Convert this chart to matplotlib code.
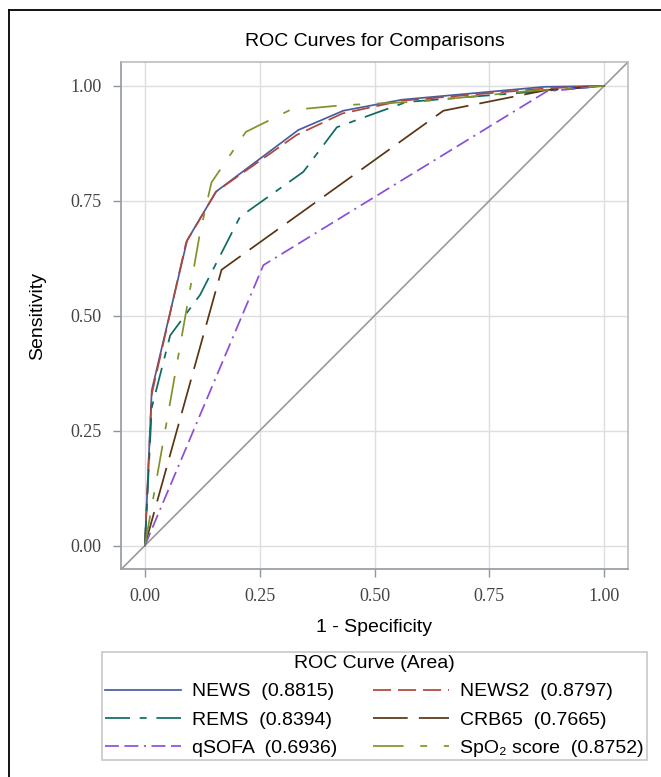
import matplotlib
matplotlib.use("Agg")
import matplotlib.pyplot as plt
from matplotlib.lines import Line2D

plt.rcParams['font.family'] = ['Liberation Sans', 'DejaVu Sans']
plt.rcParams['lines.scale_dashes'] = False

# curve points (1 - specificity, sensitivity)
news_x = [0, 0.015, 0.092, 0.155, 0.334, 0.432, 0.56, 0.87, 1.0]
news_y = [0, 0.338, 0.664, 0.77, 0.904, 0.946, 0.97, 0.998, 1.0]
news2_x = [0, 0.015, 0.09, 0.155, 0.33, 0.43, 0.56, 0.88, 1.0]
news2_y = [0, 0.33, 0.66, 0.77, 0.893, 0.94, 0.968, 0.995, 1.0]
rems_x = [0, 0.015, 0.055, 0.12, 0.207, 0.345, 0.418, 0.5, 0.57, 0.88, 1.0]
rems_y = [0, 0.30, 0.457, 0.545, 0.715, 0.813, 0.91, 0.94, 0.965, 0.99, 1.0]
crb_x = [0, 0.167, 0.65, 0.875, 1.0]
crb_y = [0, 0.60, 0.946, 0.991, 1.0]
qsofa_x = [0, 0.258, 0.875, 1.0]
qsofa_y = [0, 0.61, 0.988, 1.0]
spo2_x = [0, 0.12, 0.145, 0.22, 0.315, 0.43, 0.6, 0.85, 1.0]
spo2_y = [0, 0.68, 0.79, 0.9, 0.947, 0.958, 0.966, 0.99, 1.0]

names = ['NEWS', 'NEWS2', 'REMS', 'CRB65', 'qSOFA', 'SpO\u2082 score']
areas = ['0.8815', '0.8797', '0.8394', '0.7665', '0.6936', '0.8752']
colors = ['#4a5ca0', '#b0463c', '#0e6b62', '#5a3512', '#8a4fd6', '#82922a']
dashes = [None, (13, 5), (18, 7, 5, 7), (25, 8), (10, 4, 10, 4, 1.5, 4), (22, 12, 5, 12)]
ticks = [0.0, 0.25, 0.5, 0.75, 1.0]
tick_labels = ['0.00', '0.25', '0.50', '0.75', '1.00']

fig = plt.figure(figsize=(6.61, 7.77), dpi=100)
ax = fig.add_axes([121/661, 1-569/777, 507/661, 507/777])

ax.axline((0, 0), (1, 1), color='#9a9a9a', lw=1.2, zorder=1)

curves = [(news_x, news_y), (news2_x, news2_y), (rems_x, rems_y),
          (crb_x, crb_y), (qsofa_x, qsofa_y), (spo2_x, spo2_y)]
handles = []
for (xs, ys), nm, ar, c, d in zip(curves, names, areas, colors, dashes):
    ln, = ax.plot(xs, ys, color=c, lw=1.25, label=f'{nm}  ({ar})', zorder=3)
    if d is not None:
        ln.set_dashes(d)
    handles.append(ln)

ax.set_xlim(-0.052, 1.052)
ax.set_ylim(-0.051, 1.052)
ax.set_xticks(ticks)
ax.set_yticks(ticks)
ax.set_xticklabels(tick_labels, family='Liberation Serif', fontsize=13, color='#444444')
ax.set_yticklabels(tick_labels, family='Liberation Serif', fontsize=13, color='#444444')
ax.tick_params(length=6, width=1, color='#8f959b', pad=8)
ax.grid(True, color='#dedede', lw=1)
ax.set_axisbelow(True)
for s in ['left', 'bottom']:
    ax.spines[s].set_color('#9aa0a6')
    ax.spines[s].set_linewidth(1.3)
for s in ['top', 'right']:
    ax.spines[s].set_color('#b4b8bc')
    ax.spines[s].set_linewidth(1.1)

ax.text(0.5, 1.04, 'ROC Curves for Comparisons', transform=ax.transAxes,
        ha='center', va='center', fontsize=14)
ax.text(0.5, -0.115, '1 - Specificity', transform=ax.transAxes,
        ha='center', va='center', fontsize=14)
ax.text(-0.164, 0.5, 'Sensitivity', transform=ax.transAxes, rotation=90,
        ha='center', va='center', fontsize=14)

# legend in two columns, reading order row by row
order = [0, 2, 4, 1, 3, 5]
leg = fig.legend([handles[i] for i in order], [handles[i].get_label() for i in order],
                 ncol=2, loc='upper left',
                 bbox_to_anchor=(102/661, 1-653/777, 545/661, 0.001),
                 bbox_transform=fig.transFigure, mode='expand', borderaxespad=0,
                 title='ROC Curve (Area)', title_fontsize=14, fontsize=14,
                 handlelength=3.9, handletextpad=0.6, columnspacing=1.0,
                 labelspacing=0.55, fancybox=False, framealpha=1, borderpad=0.15)
leg.get_frame().set_edgecolor('#c8c8c8')
leg.get_frame().set_linewidth(1.2)

# outer frame (only left and top edges visible)
fig.add_artist(Line2D([9/661, 9/661], [0, 1-10/777], transform=fig.transFigure, color='black', lw=1.3))
fig.add_artist(Line2D([9/661, 1], [1-10/777, 1-10/777], transform=fig.transFigure, color='black', lw=1.3))

fig.savefig('out.png', dpi=100)
